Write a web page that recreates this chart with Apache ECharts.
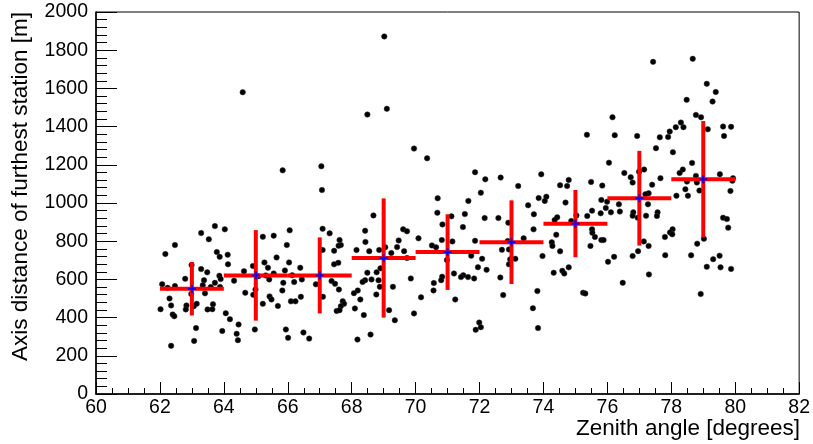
<!DOCTYPE html>
<html>
<head>
<meta charset="utf-8">
<script src="https://cdn.jsdelivr.net/npm/echarts@6/dist/echarts.min.js"></script>
<style>
  html, body { margin: 0; padding: 0; background: #fff; }
  #chart { width: 813px; height: 444px; }
</style>
</head>
<body>
<div id="chart"></div>
<script>
// scatter points, zenith angle [deg] and axis distance [m]
var zenith = [
  63.72,64.03,63.29,63.53,62.47,62.17,63.78,63.87,64.12,64.13,62.99,63.29,63.48,62.79,63.38,63.86,63.90,63.72,63.34,63.59,
  62.07,62.24,62.47,63.88,62.98,63.41,62.30,62.35,62.02,62.83,62.81,63.06,63.15,63.66,63.49,63.64,62.40,62.45,64.06,64.19,
  64.46,63.13,63.95,64.40,64.44,63.07,62.35,64.63,64.67,64.32,64.59,
  65.84,67.05,67.07,67.09,67.31,66.06,65.22,65.56,65.97,67.62,67.66,67.59,67.45,67.09,65.65,65.27,66.04,67.58,67.45,65.38,
  64.91,66.39,65.91,65.56,65.31,65.08,65.42,66.14,66.44,65.86,66.20,66.88,67.37,67.48,67.60,64.99,65.83,64.92,65.43,65.49,
  66.41,67.10,65.22,65.69,66.10,66.24,67.72,67.76,67.66,67.53,67.62,64.97,65.94,66.49,66.01,66.67,
  69.02,68.49,69.10,69.95,70.36,70.69,70.68,68.68,70.84,68.42,69.61,69.73,70.09,70.82,68.43,69.47,69.42,69.05,68.86,68.15,
  68.55,69.24,69.64,70.51,70.64,69.73,70.98,68.90,68.49,68.78,69.85,68.42,68.34,68.62,68.84,70.83,70.80,70.57,68.88,69.29,
  68.19,68.07,70.56,68.77,68.27,70.17,68.10,68.38,69.17,69.95,69.35,68.59,68.18,
  71.86,72.18,72.66,73.21,73.93,72.04,71.65,73.85,74.09,74.04,73.52,73.70,71.54,71.12,72.16,72.59,72.90,71.48,73.69,73.38,
  71.15,71.86,72.88,72.70,72.92,73.97,72.08,71.74,72.96,73.12,72.92,71.95,72.22,71.20,71.49,71.42,71.64,71.83,72.65,72.74,
  73.81,71.24,73.67,71.99,72.04,71.88,73.83,
  76.16,75.36,76.23,76.93,76.05,76.53,76.73,76.79,76.99,77.15,74.79,75.49,74.52,74.74,75.84,77.29,77.19,74.69,75.81,75.99,
  75.95,76.36,77.27,75.52,75.79,76.11,76.39,75.37,76.81,76.79,76.95,77.21,74.43,74.35,74.87,75.03,75.52,75.53,75.61,74.40,
  75.81,75.88,74.26,74.28,75.47,77.14,77.29,74.52,76.96,76.79,76.21,76.02,74.79,74.59,74.65,74.32,77.30,76.48,75.24,75.31,
  78.67,77.43,79.11,79.39,78.48,79.29,78.77,78.93,78.30,78.38,78.14,79.62,79.87,79.14,77.95,77.64,77.90,79.65,77.52,78.05,
  78.65,78.36,78.26,77.66,79.52,78.77,79.93,79.91,78.49,78.80,77.40,78.44,78.52,78.88,78.16,79.85,77.57,77.55,79.62,79.74,
  79.78,78.04,77.96,78.03,77.80,79.02,78.81,77.81,78.62,79.51,79.31,79.11,79.54,79.87,78.92
];
var distance = [
  879,862,843,810,780,733,743,718,729,679,675,654,637,603,596,619,602,582,570,560,
  575,556,565,560,524,527,500,464,444,464,443,460,472,470,443,444,416,407,423,392,
  364,345,330,315,282,278,252,643,530,593,1580,
  1171,1192,1068,865,841,857,823,829,780,806,780,776,750,754,715,689,689,687,679,661,
  670,661,647,631,621,617,600,622,600,582,586,574,591,577,547,547,542,519,511,495,
  509,509,472,461,485,485,486,472,460,435,439,338,338,322,294,290,
  1872,1463,1493,1285,1234,1025,949,935,888,855,862,852,815,806,796,804,769,768,754,754,
  748,738,748,778,768,712,701,658,635,637,605,596,587,600,595,614,596,581,561,561,
  542,528,542,521,495,506,448,413,439,422,386,311,285,
  1161,1124,1133,1089,1150,1054,1011,1026,1033,1011,988,941,942,930,921,921,897,874,862,815,
  799,802,801,755,757,722,708,724,705,708,679,664,650,631,622,612,612,605,610,518,
  539,495,449,374,350,336,345,
  1449,1357,1355,1351,1211,1157,1135,1107,1164,1175,1121,1110,1093,1089,1091,1051,1046,1002,1016,1007,
  974,993,993,960,946,951,955,932,951,933,923,933,925,911,906,935,862,844,822,834,
  806,806,794,775,775,799,775,747,748,722,718,692,663,645,631,635,626,582,530,526,
  1755,1739,1624,1581,1540,1531,1461,1449,1421,1397,1397,1400,1399,1386,1374,1344,1346,1351,1287,1266,
  1210,1175,1157,1130,1151,1142,1130,1117,1112,1107,1096,1072,1038,1065,1038,1063,951,932,923,916,
  871,862,846,836,822,813,787,727,726,724,706,666,663,655,524
];

// profile: bin centres, means and spreads
var binCenters = [63, 65, 67, 69, 71, 73, 75, 77, 79];
var binMeans   = [551, 621, 621, 712, 743, 795, 892, 1025, 1124];
var binErrors  = [140, 237, 199, 312, 198, 219, 176, 248, 305];
var binHalfWidth = 1;

var xTicks = { min: 60, max: 82, interval: 2 };
var yTicks = { min: 0, max: 2000, interval: 200 };

var points = zenith.map(function (z, i) { return [z, distance[i]]; });
var profile = binCenters.map(function (c, i) { return [c, binMeans[i], binErrors[i]]; });

var font = '"Liberation Sans", Arial, Helvetica, sans-serif';
var chart = echarts.init(document.getElementById('chart'));

var option = {
  animation: false,
  backgroundColor: '#fff',
  grid: {
    left: 96, right: 13, top: 12, bottom: 50,
    show: true, borderColor: '#000', borderWidth: 1, backgroundColor: 'transparent'
  },
  xAxis: {
    type: 'value',
    min: xTicks.min, max: xTicks.max, interval: xTicks.interval,
    axisLine: { show: true, onZero: false, lineStyle: { color: '#000', width: 1.5 } },
    axisTick: { show: true, inside: true, length: 12, lineStyle: { color: '#000', width: 1 } },
    minorTick: { show: true, splitNumber: 4, length: 6, lineStyle: { color: '#000', width: 1 } },
    splitLine: { show: false },
    axisLabel: {
      color: '#000', fontFamily: font, fontSize: 19.5, margin: 4,
      showMinLabel: true, showMaxLabel: true,
      formatter: function (v) { return String(v); }
    }
  },
  yAxis: {
    type: 'value',
    min: yTicks.min, max: yTicks.max, interval: yTicks.interval,
    axisLine: { show: true, onZero: false, lineStyle: { color: '#000', width: 1.5 } },
    axisTick: { show: true, inside: true, length: 21, lineStyle: { color: '#000', width: 1 } },
    minorTick: { show: true, splitNumber: 5, length: 11, lineStyle: { color: '#000', width: 1 } },
    splitLine: { show: false },
    axisLabel: {
      color: '#000', fontFamily: font, fontSize: 19.5, margin: 8,
      showMinLabel: true, showMaxLabel: true,
      formatter: function (v) { return String(v); }
    }
  },
  graphic: [
    {
      type: 'text', x: 800, y: 429,
      style: { text: 'Zenith angle [degrees]', fill: '#000', font: '22.5px ' + font, align: 'right', verticalAlign: 'middle' }
    },
    {
      type: 'text', x: 21, y: 12, rotation: Math.PI / 2,
      style: { text: 'Axis distance of furthest station [m]', fill: '#000', font: '22.5px ' + font, align: 'right', verticalAlign: 'middle' }
    }
  ],
  series: [
    {
      type: 'scatter',
      data: points,
      symbol: 'circle',
      symbolSize: 5.5,
      itemStyle: { color: '#000', opacity: 1, borderColor: '#333', borderWidth: 0.5 },
      silent: true,
      z: 2
    },
    {
      type: 'custom',
      data: profile,
      encode: { x: 0, y: 1 },
      z: 3,
      renderItem: function (params, api) {
        var x = api.value(0), m = api.value(1), e = api.value(2);
        var l = api.coord([x - binHalfWidth, m]);
        var r = api.coord([x + binHalfWidth, m]);
        var t = api.coord([x, m + e]);
        var b = api.coord([x, m - e]);
        var c = api.coord([x, m]);
        var red = { stroke: '#ff0000', lineWidth: 4 };
        var blue = { stroke: '#0000ff', lineWidth: 2 };
        return {
          type: 'group',
          children: [
            { type: 'line', shape: { x1: l[0], y1: l[1], x2: r[0], y2: r[1] }, style: red },
            { type: 'line', shape: { x1: t[0], y1: t[1], x2: b[0], y2: b[1] }, style: red },
            { type: 'line', shape: { x1: c[0] - 4, y1: c[1], x2: c[0] + 4, y2: c[1] }, style: blue },
            { type: 'line', shape: { x1: c[0], y1: c[1] - 4, x2: c[0], y2: c[1] + 4 }, style: blue }
          ]
        };
      }
    }
  ]
};

chart.setOption(option);
</script>
</body>
</html>
